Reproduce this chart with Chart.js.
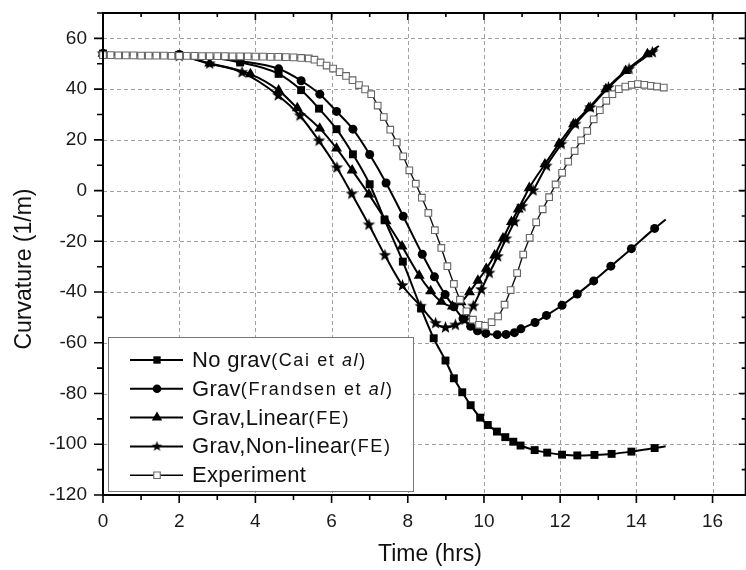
<!DOCTYPE html>
<html>
<head>
<meta charset="utf-8">
<title>Curvature vs time</title>
<script src="https://cdn.jsdelivr.net/npm/chart.js@4.4.1/dist/chart.umd.min.js"></script>
<style>
    html, body { margin: 0; padding: 0; background: #ffffff; overflow: hidden; }
    #wrap { position: relative; width: 752px; height: 570px; }
</style>
</head>
<body>
<div id="wrap"><canvas id="curvChart"></canvas></div>
<script>
// axis ticks
var xTicks = [0, 2, 4, 6, 8, 10, 12, 14, 16];
var yTicks = [-120, -100, -80, -60, -40, -20, 0, 20, 40, 60];
var xTitle = "Time (hrs)";
var yTitle = "Curvature (1/m)";

// No grav (Cai et al)
var noGravT = [0, 2, 3.6, 4.61, 5.2, 5.67, 6.13, 6.56, 7.0, 7.39, 7.87, 8.35, 8.68, 8.99, 9.21, 9.43, 9.65, 9.9, 10.1, 10.34, 10.56, 10.77, 10.96, 11.33, 11.66, 12.05, 12.45, 12.9, 13.35, 13.87, 14.48, 14.77];
var noGravK = [54, 53.5, 50.5, 46, 39.6, 32.3, 24.2, 14.3, 2.5, -11.4, -28, -46.5, -58.2, -67, -74, -79.5, -84.6, -89.5, -92.4, -95, -97.2, -99, -100.5, -102.3, -103.3, -104.1, -104.4, -104.2, -103.8, -102.9, -101.5, -100.8];

// Grav (Frandsen et al)
var gravT = [0, 2, 3.6, 4.61, 5.2, 5.69, 6.13, 6.56, 7.0, 7.43, 7.88, 8.38, 8.7, 8.98, 9.21, 9.45, 9.65, 9.83, 10.05, 10.35, 10.58, 10.8, 10.97, 11.34, 11.64, 12.05, 12.45, 12.88, 13.33, 13.87, 14.48, 14.77];
var gravK = [54, 53.6, 51, 48, 43.3, 38, 31.2, 24.2, 14.2, 3, -10.1, -25.1, -34, -41, -45.8, -50.5, -53.5, -55.3, -56.3, -56.8, -56.7, -56, -54.5, -52, -49.2, -45.2, -40.8, -35.6, -29.8, -22.9, -14.9, -11.4];

// Grav, Linear (FE)
var linT = [0, 2, 2.8, 3.87, 4.61, 5.1, 5.69, 6.13, 6.54, 6.98, 7.43, 7.85, 8.3, 8.6, 8.88, 9.17, 9.4, 9.62, 9.84, 10.06, 10.28, 10.5, 10.72, 10.9, 11.19, 11.6, 11.97, 12.35, 12.75, 13.2, 13.72, 14.29, 14.59];
var linK = [54, 53, 50.2, 45.9, 39.5, 32.5, 24.5, 16.6, 8, -1.5, -12, -22, -33.5, -39.6, -43.8, -45.6, -44, -40, -35.5, -30.8, -25.5, -18.8, -12.3, -7.4, 1.1, 10.4, 18.5, 26.2, 32.5, 40, 47.2, 53.8, 57];

// Grav, Non-linear (FE)
var nlT = [0, 2, 2.8, 3.65, 4.6, 5.17, 5.67, 6.14, 6.53, 6.98, 7.4, 7.86, 8.34, 8.73, 8.99, 9.25, 9.5, 9.72, 9.93, 10.14, 10.36, 10.58, 10.8, 11.0, 11.29, 11.64, 12.03, 12.4, 12.79, 13.27, 13.81, 14.42, 14.55];
var nlK = [54, 53, 50, 46.6, 37.5, 29.5, 19.6, 9, -1.3, -13.5, -25.5, -37.4, -45.6, -52.3, -54, -53, -51, -45.5, -39, -32.5, -26, -19, -12.3, -6.2, 0, 9.7, 18.3, 26.2, 32.7, 40.6, 47.9, 54.5, 56];

// Experiment
var expT = [0, 0.2, 0.4, 0.6, 0.8, 1.0, 1.2, 1.4, 1.6, 1.8, 2.0, 2.2, 2.4, 2.6, 2.8, 3.0, 3.2, 3.4, 3.6, 3.8, 4.0, 4.2, 4.4, 4.6, 4.8, 5.0, 5.2, 5.4,
    5.55, 5.71, 5.87, 6.04, 6.21, 6.38, 6.55, 6.72, 6.88, 7.04, 7.21, 7.37, 7.54, 7.71, 7.88, 8.04, 8.21, 8.37, 8.54, 8.71, 8.88, 9.04, 9.21, 9.37,
    9.54, 9.71, 9.87, 10.03, 10.2, 10.37, 10.54, 10.7, 10.87, 11.03, 11.2, 11.37, 11.54, 11.71, 11.88, 12.05, 12.21, 12.38, 12.55, 12.71, 12.88,
    13.04, 13.21, 13.37, 13.54, 13.71, 13.88, 14.04, 14.21, 14.38, 14.54, 14.72];
var expK = [53.4, 53.4, 53.3, 53.3, 53.3, 53.2, 53.2, 53.2, 53.2, 53.1, 53.1, 53.1, 53.1, 53.0, 53.0, 53.0, 53.0, 52.9, 52.9, 52.9, 52.8, 52.8, 52.7, 52.7, 52.6, 52.5, 52.3, 52.1,
    51.6, 50.5, 49.3, 48.1, 46.7, 45.2, 43.5, 41.6, 39.9, 38, 33.5, 29, 24, 19, 13.5, 8, 2.7, -2.8, -8.8, -15.6, -22.6, -29.8, -36.8, -43,
    -47.6, -50.9, -52.9, -53.3, -51.9, -49.6, -45, -39.2, -32.5, -25.2, -18.6, -12.5, -7.4, -2.6, 2.4, 7, 11.4, 15.6, 19.8, 23.5, 28.1,
    31.7, 35.4, 38, 40, 41, 41.7, 42, 41.7, 41.3, 41, 40.6];

var fam = "'Liberation Sans', Arial, sans-serif";

function pts(t, k) {
    return t.map((v, i) => ({ x: v, y: k[i] }));
}

// 实心五角星
function makeStar(r) {
    var c = document.createElement("canvas");
    var s = Math.ceil(r * 2 + 2);
    c.width = s;
    c.height = s;
    var g = c.getContext("2d");
    g.fillStyle = "#000";
    g.beginPath();
    for (var i = 0; i < 10; i++) {
        var rad = i % 2 === 0 ? r : r * 0.42;
        var ang = -Math.PI / 2 + (i * Math.PI) / 5;
        g.lineTo(s / 2 + rad * Math.cos(ang), s / 2 + rad * Math.sin(ang));
    }
    g.closePath();
    g.fill();
    return c;
}
var starImg = makeStar(6.5);
var starSmall = makeStar(5.5);

// 最后一个点只是线段端点，不画标记
function lastHidden(r) {
    return (c) => (c.dataIndex === c.dataset.data.length - 1 ? 0 : r);
}

function modelSet(label, t, k, style, r, order) {
    return {
        label: label,
        data: pts(t, k),
        showLine: true,
        borderColor: "#000",
        borderWidth: 2,
        backgroundColor: "#000",
        pointStyle: style,
        pointRadius: lastHidden(r),
        pointBorderWidth: 0,
        pointBackgroundColor: "#000",
        cubicInterpolationMode: "monotone",
        clip: false,
        order: order,
    };
}

var datasets = [
    {
        label: "Experiment",
        data: pts(expT, expK),
        showLine: true,
        borderColor: "#111",
        borderWidth: 1.4,
        pointStyle: "rect",
        pointRadius: 4.7,
        pointBorderWidth: 1.1,
        pointBorderColor: "#666",
        pointBackgroundColor: "#fff",
        cubicInterpolationMode: "monotone",
        clip: false,
        order: 0,
    },
    modelSet("No grav", noGravT, noGravK, "rect", 5.6, 1),
    modelSet("Grav", gravT, gravK, "circle", 4.5, 2),
    modelSet("Grav,Linear(FE)", linT, linK, "triangle", 6.3, 3),
    modelSet("Grav,Non-linear(FE)", nlT, nlK, starImg, 6, 4),
];

// 网格虚线、边框、刻度（主刻度 + 次刻度）和坐标轴标题
var framePlugin = {
    id: "frame",
    beforeDatasetsDraw: function (chart) {
        var ctx = chart.ctx, a = chart.chartArea, xs = chart.scales.x, ys = chart.scales.y;
        ctx.save();
        ctx.strokeStyle = "#a0a0a0";
        ctx.lineWidth = 1;
        ctx.setLineDash([4, 3]);
        ctx.beginPath();
        xTicks.forEach((v) => {
            if (v <= xs.min) return;
            var px = Math.round(xs.getPixelForValue(v)) + 0.5;
            ctx.moveTo(px, a.top);
            ctx.lineTo(px, a.bottom);
        });
        yTicks.forEach((v) => {
            if (v <= ys.min) return;
            var py = Math.round(ys.getPixelForValue(v)) + 0.5;
            ctx.moveTo(a.left, py);
            ctx.lineTo(a.right, py);
        });
        ctx.stroke();
        ctx.restore();
    },
    afterDatasetsDraw: function (chart) {
        var ctx = chart.ctx, a = chart.chartArea, xs = chart.scales.x, ys = chart.scales.y;
        ctx.save();
        ctx.strokeStyle = "#000";
        ctx.lineWidth = 2;
        ctx.strokeRect(a.left, a.top, a.right - a.left, a.bottom - a.top);
        ctx.lineWidth = 1.6;
        ctx.beginPath();
        function xTick(v, major) {
            var px = xs.getPixelForValue(v);
            var outL = major ? 8 : 5, inL = major ? 7 : 4;
            ctx.moveTo(px, a.bottom);
            ctx.lineTo(px, a.bottom + outL);
            ctx.moveTo(px, a.top);
            ctx.lineTo(px, a.top + inL);
        }
        function yTick(v, major) {
            var py = ys.getPixelForValue(v);
            var outL = major ? 9 : 6, inL = major ? 7 : 4;
            ctx.moveTo(a.left, py);
            ctx.lineTo(a.left - outL, py);
            ctx.moveTo(a.right, py);
            ctx.lineTo(a.right - inL, py);
        }
        xTicks.forEach((v) => {
            xTick(v, true);
            xTick(v + (xTicks[1] - xTicks[0]) / 2, false);
        });
        yTicks.forEach((v) => {
            yTick(v, true);
            yTick(v + (yTicks[1] - yTicks[0]) / 2, false);
        });
        ctx.stroke();

        // 坐标轴标题（原图中略偏离绘图区中心）
        ctx.fillStyle = "#111";
        ctx.font = "23px " + fam;
        ctx.textAlign = "center";
        ctx.textBaseline = "middle";
        ctx.fillText(xTitle, 430, 555);
        ctx.translate(25, 269);
        ctx.rotate(-Math.PI / 2);
        ctx.fillText(yTitle, 0, 0);
        ctx.restore();
    },
};

// 图例（图内左下角）
var legendRows = [
    { ds: 1, r: 5.2, parts: [["No grav", "big"], ["(Cai et ", "small"], ["al", "ital"], [")", "small"]] },
    { ds: 2, r: 4.3, parts: [["Grav", "big"], ["(Frandsen et ", "small"], ["al", "ital"], [")", "small"]] },
    { ds: 3, r: 6, parts: [["Grav,Linear", "big"], ["(FE)", "small"]] },
    { ds: 4, r: 5, parts: [["Grav,Non-linear", "big"], ["(FE)", "small"]] },
    { ds: 0, r: 4.6, parts: [["Experiment", "big"]] },
];

var legendPlugin = {
    id: "boxLegend",
    afterDraw: function (chart) {
        var ctx = chart.ctx, a = chart.chartArea;
        var bx = a.left + 5, by = 337, bw = 305, bh = 154;
        ctx.save();
        ctx.fillStyle = "#fff";
        ctx.fillRect(bx, by, bw, bh);
        ctx.strokeStyle = "#777";
        ctx.lineWidth = 1;
        ctx.strokeRect(bx + 0.5, by + 0.5, bw, bh);
        var fonts = {
            big: "22px " + fam,
            small: "18px " + fam,
            ital: "italic 18px " + fam,
        };
        legendRows.forEach((row, i) => {
            var y = by + 23 + i * 28.8;
            var ds = chart.data.datasets[row.ds];
            var isExp = row.ds === 0;
            ctx.strokeStyle = "#000";
            ctx.lineWidth = ds.borderWidth;
            ctx.beginPath();
            ctx.moveTo(bx + 22, y);
            ctx.lineTo(bx + 75, y);
            ctx.stroke();
            ctx.fillStyle = isExp ? "#fff" : "#000";
            ctx.strokeStyle = isExp ? "#666" : "#000";
            ctx.lineWidth = isExp ? 1.1 : 0;
            Chart.helpers.drawPoint(ctx, {
                pointStyle: row.ds === 4 ? starSmall : ds.pointStyle,
                radius: row.r,
                rotation: 0,
                borderWidth: isExp ? 1.1 : 0,
            }, bx + 49, y);
            var tx = bx + 84;
            ctx.fillStyle = "#111";
            ctx.textBaseline = "middle";
            row.parts.forEach((p) => {
                ctx.font = fonts[p[1]];
                ctx.letterSpacing = p[1] === "big" ? "0.3px" : "1.6px";
                ctx.fillText(p[0], tx, y + 1);
                tx += ctx.measureText(p[0]).width;
            });
            ctx.letterSpacing = "0px";
        });
        ctx.restore();
    },
};

var ctxC = document.getElementById("curvChart");
var curvChart = new Chart(ctxC, {
    type: "scatter",
    data: { datasets: datasets },
    plugins: [framePlugin, legendPlugin],
    options: {
        responsive: true,
        maintainAspectRatio: false,
        animation: false,
        devicePixelRatio: 1,
        layout: { padding: { top: 13, right: 2, left: 0, bottom: 0 } },
        plugins: {
            legend: { display: false },
            tooltip: { enabled: false },
        },
        scales: {
            x: {
                type: "linear",
                min: 0,
                max: 16.87,
                afterBuildTicks: (s) => { s.ticks = xTicks.map((v) => ({ value: v })); },
                afterFit: (s) => {
                    s.height = 75;
                    s.paddingLeft = 0;
                    s.paddingRight = 0;
                },
                grid: { display: false },
                border: { display: false },
                ticks: {
                    font: { family: fam, size: 19 },
                    color: "#1a1a1a",
                    padding: 7,
                    maxRotation: 0,
                    callback: (v) => String(v),
                },
            },
            y: {
                type: "linear",
                min: -120,
                max: 70,
                afterBuildTicks: (s) => { s.ticks = yTicks.map((v) => ({ value: v })); },
                afterFit: (s) => {
                    s.width = 103;
                    s.paddingTop = 0;
                    s.paddingBottom = 0;
                },
                grid: { display: false },
                border: { display: false },
                ticks: {
                    font: { family: fam, size: 19 },
                    color: "#1a1a1a",
                    padding: 8,
                    callback: (v) => String(v),
                },
            },
        },
    },
});
</script>
</body>
</html>
